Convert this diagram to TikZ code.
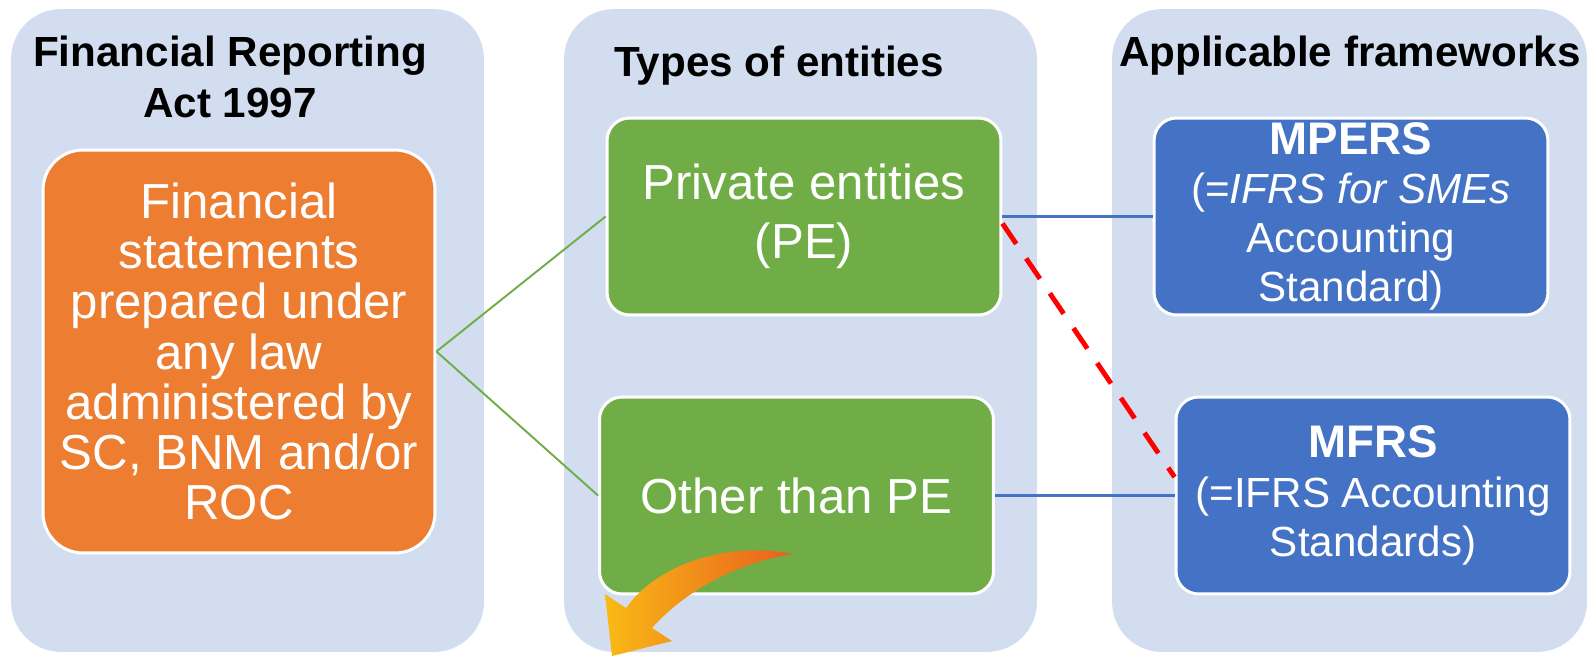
\documentclass[tikz,border=0pt]{standalone}
\usepackage{fontspec}
\setmainfont{Liberation Sans}
\usetikzlibrary{positioning}
\definecolor{panelblue}{HTML}{D2DEEF}
\definecolor{boxorange}{HTML}{ED7D31}
\definecolor{boxgreen}{HTML}{70AD47}
\definecolor{boxblue}{HTML}{4472C4}
\definecolor{arrowred}{HTML}{E85F1E}
\definecolor{arrowyellow}{HTML}{F9BA15}
\begin{document}
\begin{tikzpicture}[
			x=0.02cm, y=-0.02cm,
			panel/.style = {fill=panelblue, rounded corners=1cm, inner sep=0pt, minimum height=12.86cm},
			title/.style = {font=\fontsize{24}{29}\selectfont\bfseries, align=center},
			card/.style = {draw=white, line width=1.7pt, rounded corners=0.45cm, text=white, align=center,
				inner sep=0pt, minimum width=7.88cm, minimum height=3.94cm},
			bigtext/.style = {font=\fontsize{28}{28.6}\selectfont},
			smalltext/.style = {font=\fontsize{24}{28}\selectfont},
			greenline/.style = {draw=boxgreen, line width=1.1pt},
			blueline/.style = {draw=boxblue, line width=1.4pt},
			redline/.style = {draw=red, line width=2.8pt, dash pattern=on 14pt off 10pt},
			]
			\useasboundingbox (0,0) rectangle (1595,656);
			\node[panel, minimum width=9.46cm] (actpanel) at (247.5,330.5) {};
			\node[panel, minimum width=9.46cm] (entpanel) at (800.5,330.5) {};
			\node[panel, minimum width=9.5cm] (fwpanel) at (1349.5,330.5) {};
			\node[title] (acttitle) at (230,77) {Financial Reporting\\Act 1997};
			\node[title] (enttitle) at (779,66) {Types of entities};
			\node[title] (fwtitle) at (1350,56) {Applicable frameworks};
			\node[card, fill=boxorange, bigtext, rounded corners=0.8cm, minimum width=7.84cm, minimum height=8.06cm]
				(statements) at (239,351.5) {Financial\\statements\\prepared under\\any law\\administered by\\SC, BNM and/or\\ROC};
			\node[card, fill=boxgreen, font=\fontsize{28}{33.5}\selectfont] (pe) at (804,216.5) {Private entities\\(PE)};
			\node[card, fill=boxgreen, bigtext] (otherpe) at (796.5,495.5) {Other than PE};
			\node[card, fill=boxblue, smalltext] (mpers) at (1351,216.5)
				{{\fontsize{26}{30}\selectfont\bfseries MPERS}\\(=\textit{IFRS for SMEs}\\Accounting\\Standard)};
			\node[card, fill=boxblue, smalltext] (mfrs) at (1373,495.5)
				{{\fontsize{26}{30}\selectfont\bfseries MFRS}\\(=IFRS Accounting\\Standards)};
			\draw[greenline] (statements.east) -- (pe.west);
			\draw[greenline] (statements.east) -- (otherpe.west);
			\draw[blueline] (pe.east) -- (mpers.west);
			\draw[blueline] (otherpe.east) -- (mfrs.west);
			\draw[redline] ([yshift=-4pt]pe.east) -- ([yshift=10.5pt]mfrs.west);
			\shade[left color=arrowyellow, right color=arrowred]
				(793,554) .. controls (730,541) and (658,563) .. (626,608) -- (605,594) -- (612,656)
				-- (672,641) -- (652,628) .. controls (686,590) and (737,563) .. (793,554) -- cycle;
		\end{tikzpicture}
\end{document}
